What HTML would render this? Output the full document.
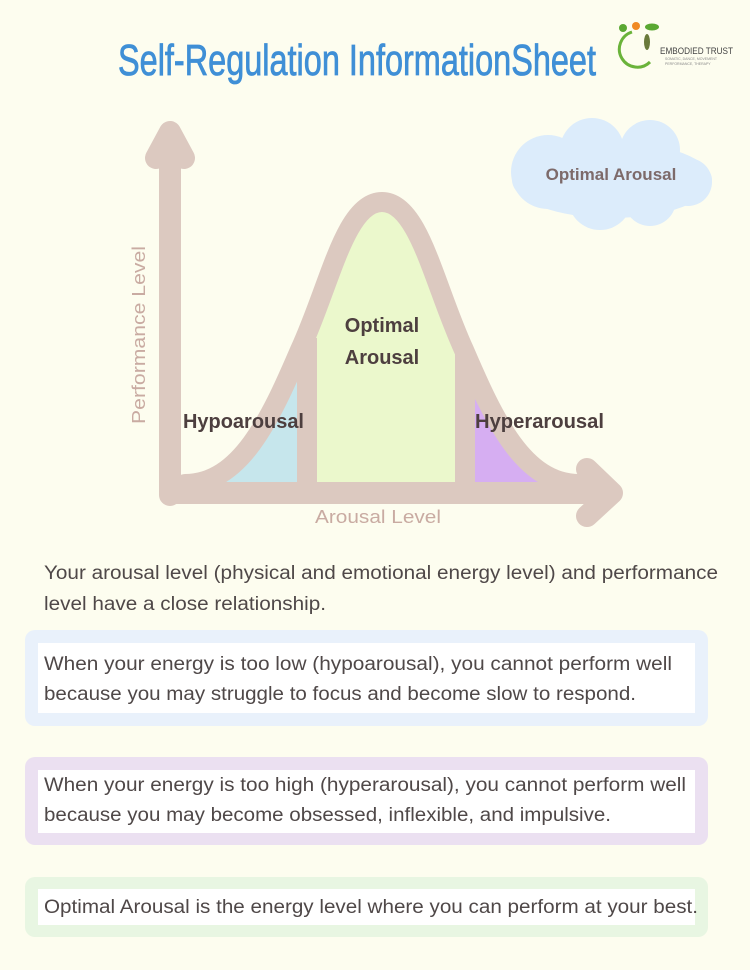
<!DOCTYPE html>
<html><head><meta charset="utf-8"><style>
html,body{margin:0;padding:0;background:#fdfdef;}
svg{display:block}
</style></head><body>
<svg width="750" height="970" viewBox="0 0 750 970" xmlns="http://www.w3.org/2000/svg">
<rect width="750" height="970" fill="#fdfdef"/>
<!-- Title -->
<text x="118" y="75" font-family="Liberation Sans, sans-serif" font-size="44" fill="#3f8fd6" stroke="#3f8fd6" stroke-width="0.8" textLength="478" lengthAdjust="spacingAndGlyphs">Self-Regulation InformationSheet</text>
<!-- Logo -->
<circle cx="623" cy="28" r="4" fill="#5aa832"/>
<circle cx="636" cy="26" r="4" fill="#f08a24"/>
<ellipse cx="652" cy="27" rx="7" ry="3.5" fill="#5aa832"/>
<path d="M632,32 A18,18 0 1,0 650,62" fill="none" stroke="#6ab33a" stroke-width="3"/>
<ellipse cx="647" cy="42" rx="3" ry="8" fill="#6a7a3a"/>
<text x="660" y="54" font-family="Liberation Sans, sans-serif" font-size="9" fill="#444" textLength="73" lengthAdjust="spacingAndGlyphs">EMBODIED TRUST</text>
<text x="665" y="60" font-family="Liberation Sans, sans-serif" font-size="3.5" fill="#888">SOMATIC, DANCE, MOVEMENT</text>
<text x="665" y="65" font-family="Liberation Sans, sans-serif" font-size="3.5" fill="#888">PERFORMANCE, THERAPY</text>
<!-- Cloud -->
<g fill="#dcecfb">
<ellipse cx="612" cy="180" rx="100" ry="38"/>
<circle cx="548" cy="172" r="37"/>
<circle cx="592" cy="150" r="32"/>
<circle cx="650" cy="150" r="30"/>
<circle cx="688" cy="182" r="24"/>
<circle cx="600" cy="198" r="32"/>
<circle cx="650" cy="200" r="26"/>
</g>
<text x="611" y="180" text-anchor="middle" font-family="Liberation Sans, sans-serif" font-weight="bold" font-size="17" fill="#7d6a6a">Optimal Arousal</text>
<!-- fills -->
<defs>
<clipPath id="under"><path d="M185,484 C240,484 270,420 300,350 C330,285 345,202 382,202 C419,202 434,285 464,350 C494,420 524,484 579,484 Z"/></clipPath>
</defs>
<g clip-path="url(#under)">
<rect x="220" y="300" width="87" height="190" fill="#c6e6ec"/>
<rect x="307" y="190" width="158" height="300" fill="#ebf8cc"/>
<rect x="465" y="300" width="87" height="190" fill="#d6aef2"/>
</g>
<g stroke="#dcc9c0" fill="none" stroke-linecap="round" stroke-linejoin="round">
<path d="M185,484 C240,484 270,420 300,350 C330,285 345,202 382,202 C419,202 434,285 464,350 C494,420 524,484 579,484" stroke-width="20"/>
<line x1="307" y1="338" x2="307" y2="490" stroke-width="20" stroke-linecap="butt"/>
<line x1="465" y1="350" x2="465" y2="490" stroke-width="20" stroke-linecap="butt"/>
<path d="M170,495 L170,132 M156,158 L170,132 L184,158" stroke-width="22"/>
<path d="M170,493 L612,493 M587,469 L612,493 L587,516" stroke-width="22"/>
</g>
<!-- chart labels -->
<g font-family="Liberation Sans, sans-serif" font-weight="bold" font-size="20" fill="#4d3f3f">
<text x="183" y="428" textLength="121" lengthAdjust="spacingAndGlyphs">Hypoarousal</text>
<text x="475" y="428" textLength="129" lengthAdjust="spacingAndGlyphs">Hyperarousal</text>
<text x="382" y="332" text-anchor="middle">Optimal</text>
<text x="382" y="364" text-anchor="middle">Arousal</text>
</g>
<text transform="translate(145,335) rotate(-90)" text-anchor="middle" font-family="Liberation Sans, sans-serif" font-size="18" fill="#c9aba2" textLength="178" lengthAdjust="spacingAndGlyphs">Performance Level</text>
<text x="378" y="523" text-anchor="middle" font-family="Liberation Sans, sans-serif" font-size="18" fill="#c9aba2" textLength="126" lengthAdjust="spacingAndGlyphs">Arousal Level</text>
<!-- boxes -->
<rect x="25" y="630" width="683" height="96" rx="10" fill="#e9f1fb"/>
<rect x="38" y="643" width="657" height="70" fill="#ffffff"/>
<rect x="25" y="757" width="683" height="88" rx="10" fill="#ebe0f1"/>
<rect x="38" y="770" width="657" height="63" fill="#ffffff"/>
<rect x="25" y="877" width="683" height="60" rx="10" fill="#e8f6e2"/>
<rect x="38" y="889" width="657" height="36" fill="#ffffff"/>
<g font-family="Liberation Sans, sans-serif" font-size="19" fill="#4f4848">
<text x="44" y="579" textLength="674" lengthAdjust="spacingAndGlyphs">Your arousal level (physical and emotional energy level) and performance</text>
<text x="44" y="610" textLength="282" lengthAdjust="spacingAndGlyphs">level have a close relationship.</text>
<text x="44" y="670" textLength="628" lengthAdjust="spacingAndGlyphs">When your energy is too low (hypoarousal), you cannot perform well</text>
<text x="44" y="700" textLength="592" lengthAdjust="spacingAndGlyphs">because you may struggle to focus and become slow to respond.</text>
<text x="44" y="791" textLength="642" lengthAdjust="spacingAndGlyphs">When your energy is too high (hyperarousal), you cannot perform well</text>
<text x="44" y="821" textLength="567" lengthAdjust="spacingAndGlyphs">because you may become obsessed, inflexible, and impulsive.</text>
<text x="44" y="913" textLength="654" lengthAdjust="spacingAndGlyphs">Optimal Arousal is the energy level where you can perform at your best.</text>
</g>
</svg>
</body></html>
